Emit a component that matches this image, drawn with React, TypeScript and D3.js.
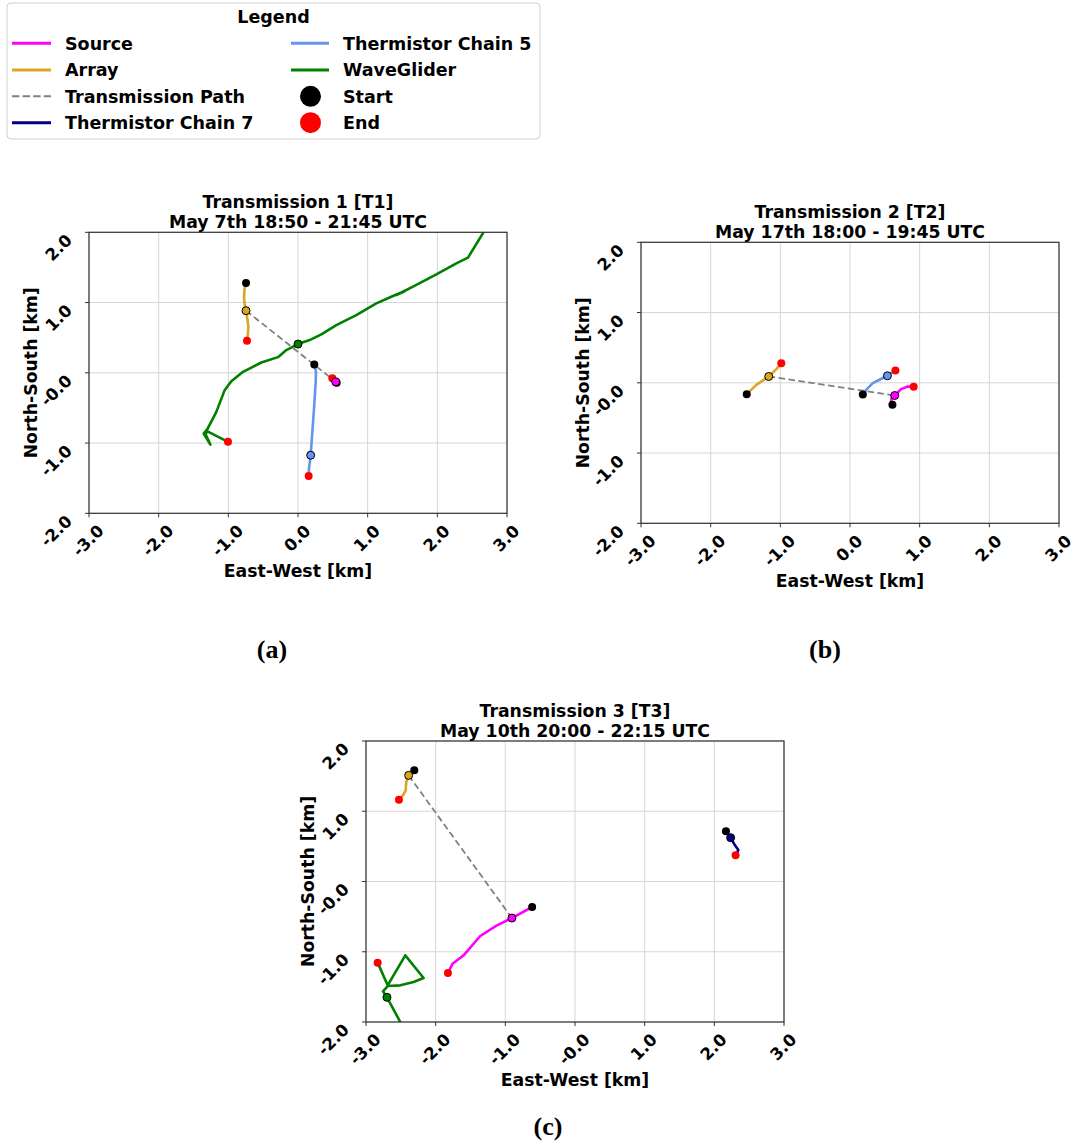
import React from "react";
import * as d3 from "d3";

type Pt = [number, number];

const SANS = "'DejaVu Sans', 'Liberation Sans', sans-serif";
const SERIF = "'Liberation Serif', 'Times New Roman', serif";

// Series colours
const C_SOURCE = "#ff00ff";
const C_ARRAY = "#daa520";
const C_PATH = "#808080";
const C_CHAIN7 = "#000080";
const C_CHAIN5 = "#6495ed";
const C_GLIDER = "#008000";
const C_START = "#000000";
const C_END = "#ff0000";

// Axis ticks and their labels
const xTicks = [-3, -2, -1, 0, 1, 2, 3];
const yTicks = [-2, -1, 0, 1, 2];
const xTickLabelsAB = ["-3.0", "-2.0", "-1.0", "0.0", "1.0", "2.0", "3.0"];
const xTickLabelsC = ["-3.0", "-2.0", "-1.0", "-0.0", "1.0", "2.0", "3.0"];
const yTickLabels = ["-2.0", "-1.0", "-0.0", "1.0", "2.0"];

// Legend entries
const legendCol1 = ["Source", "Array", "Transmission Path", "Thermistor Chain 7"];
const legendCol2 = ["Thermistor Chain 5", "WaveGlider", "Start", "End"];

// Transmission 1 tracks (km east / km north)
const t1Array: Pt[] = [
  [-0.746, 1.278], [-0.77, 1.178], [-0.775, 1.059], [-0.761, 0.941], [-0.746, 0.884],
  [-0.727, 0.774], [-0.713, 0.656], [-0.718, 0.561], [-0.732, 0.456],
];
const t1ArrayMark: Pt = [-0.746, 0.884];
const t1Source: Pt[] = [[0.555, -0.14], [0.541, -0.128], [0.493, -0.076]];
const t1SourceMark: Pt = [0.541, -0.128];
const t1Chain5: Pt[] = [
  [0.234, 0.119], [0.258, 0.014], [0.254, -0.128], [0.23, -0.508], [0.206, -0.841],
  [0.182, -1.173], [0.158, -1.363], [0.153, -1.468],
];
const t1Chain5Mark: Pt = [0.182, -1.173];
const t1Glider: Pt[] = [
  [2.727, 2.105], [2.44, 1.639], [2.273, 1.558], [1.986, 1.401], [1.651, 1.226],
  [1.411, 1.107], [1.53, 1.16], [1.38, 1.1], [1.124, 0.988], [0.837, 0.822],
  [0.55, 0.679], [0.335, 0.546], [0.167, 0.466], [0.0, 0.409], [-0.167, 0.323],
  [-0.287, 0.223], [-0.526, 0.147], [-0.789, 0.014], [-0.957, -0.119], [-1.053, -0.247],
  [-1.172, -0.556], [-1.301, -0.803], [-1.354, -0.865], [-1.258, -1.021], [-1.325, -0.879],
  [-1.306, -0.831], [-1.005, -0.983],
];
const t1GliderMark: Pt = [0.0, 0.409];

// Transmission 2 tracks
const t2Array: Pt[] = [[-1.482, -0.162], [-1.344, -0.029], [-1.167, 0.09], [-1.057, 0.195], [-0.986, 0.28]];
const t2ArrayMark: Pt = [-1.167, 0.09];
const t2Chain5: Pt[] = [[0.184, -0.166], [0.241, -0.09], [0.327, -0.005], [0.422, 0.043], [0.537, 0.1], [0.652, 0.176]];
const t2Chain5Mark: Pt = [0.537, 0.1];
const t2Source: Pt[] = [[0.609, -0.314], [0.59, -0.266], [0.599, -0.209], [0.642, -0.181], [0.733, -0.09], [0.828, -0.052], [0.914, -0.057]];
const t2SourceMark: Pt = [0.642, -0.181];

// Transmission 3 tracks
const t3Array: Pt[] = [[-2.307, 1.582], [-2.388, 1.511], [-2.422, 1.416], [-2.431, 1.298], [-2.469, 1.227], [-2.527, 1.165]];
const t3ArrayMark: Pt = [-2.388, 1.511];
const t3Source: Pt[] = [[-0.615, -0.363], [-0.906, -0.52], [-1.121, -0.624], [-1.36, -0.776], [-1.599, -1.051], [-1.757, -1.17], [-1.824, -1.303]];
const t3SourceMark: Pt = [-0.906, -0.52];
const t3Chain7: Pt[] = [[2.167, 0.714], [2.234, 0.624], [2.296, 0.515], [2.345, 0.448], [2.305, 0.375]];
const t3Chain7Mark: Pt = [2.234, 0.624];
const t3Glider: Pt[] = [
  [-2.48, -2.06], [-2.508, -2.0], [-2.699, -1.649], [-2.756, -1.563], [-2.689, -1.488],
  [-2.508, -1.478], [-2.316, -1.431], [-2.173, -1.374], [-2.436, -1.051], [-2.689, -1.478],
  [-2.833, -1.155],
];
const t3GliderMark: Pt = [-2.699, -1.649];

interface Track { color: string; pts: Pt[]; mark: Pt }

const panelTracks: Track[][] = [
  [
    { color: C_CHAIN5, pts: t1Chain5, mark: t1Chain5Mark },
    { color: C_GLIDER, pts: t1Glider, mark: t1GliderMark },
    { color: C_ARRAY, pts: t1Array, mark: t1ArrayMark },
    { color: C_SOURCE, pts: t1Source, mark: t1SourceMark },
  ],
  [
    { color: C_CHAIN5, pts: t2Chain5, mark: t2Chain5Mark },
    { color: C_ARRAY, pts: t2Array, mark: t2ArrayMark },
    { color: C_SOURCE, pts: t2Source, mark: t2SourceMark },
  ],
  [
    { color: C_CHAIN7, pts: t3Chain7, mark: t3Chain7Mark },
    { color: C_GLIDER, pts: t3Glider, mark: t3GliderMark },
    { color: C_ARRAY, pts: t3Array, mark: t3ArrayMark },
    { color: C_SOURCE, pts: t3Source, mark: t3SourceMark },
  ],
];

const panelPaths: [Pt, Pt][] = [
  [t1ArrayMark, t1SourceMark],
  [t2ArrayMark, t2SourceMark],
  [t3ArrayMark, t3SourceMark],
];

const panelTitles: [string, string][] = [
  ["Transmission 1 [T1]", "May 7th 18:50 - 21:45 UTC"],
  ["Transmission 2 [T2]", "May 17th 18:00 - 19:45 UTC"],
  ["Transmission 3 [T3]", "May 10th 20:00 - 22:15 UTC"],
];
const panelXLabels = [xTickLabelsAB, xTickLabelsAB, xTickLabelsC];
const panelCaptions = ["(a)", "(b)", "(c)"];

// Layout
const W = 418;
const H = 281;
const frames = [
  { left: 89, top: 232.3, capX: 272, capY: 650 },
  { left: 641, top: 242.3, capX: 825, capY: 650 },
  { left: 366, top: 741, capX: 548, capY: 1127 },
];

const TICK_FS = 16.5;
const charW: Record<string, number> = { "-": 0.415, ".": 0.38 };
const labelWidth = (s: string) =>
  s.split("").reduce((a, c) => a + (charW[c] ?? 0.696), 0) * TICK_FS;

function Panel({ idx }: { idx: number }) {
  const f = frames[idx];
  const x = d3.scaleLinear().domain([-3, 3]).range([f.left, f.left + W]);
  const y = d3.scaleLinear().domain([-2, 2]).range([f.top + H, f.top]);
  const line = d3.line<Pt>().x((d) => x(d[0])).y((d) => y(d[1]));
  const tracks = panelTracks[idx];
  const [pa, pb] = panelPaths[idx];
  const clipId = `clip-${idx}`;
  const bottom = f.top + H;
  const cx = f.left + W / 2;
  const r = 4;
  return (
    <g>
      <defs>
        <clipPath id={clipId}>
          <rect x={f.left} y={f.top} width={W} height={H} />
        </clipPath>
      </defs>
      {/* grid */}
      <g stroke="#d6d6d6" strokeWidth={1}>
        {xTicks.map((t) => (
          <line key={"gx" + t} x1={x(t)} x2={x(t)} y1={f.top} y2={bottom} />
        ))}
        {yTicks.map((t) => (
          <line key={"gy" + t} x1={f.left} x2={f.left + W} y1={y(t)} y2={y(t)} />
        ))}
      </g>
      <g clipPath={`url(#${clipId})`}>
        {tracks.map((t, i) => (
          <path key={"l" + i} d={line(t.pts) ?? ""} fill="none" stroke={t.color}
            strokeWidth={2.6} strokeLinejoin="round" strokeLinecap="round" />
        ))}
        <path d={line([pa, pb]) ?? ""} fill="none" stroke={C_PATH} strokeWidth={1.8}
          strokeDasharray="6.5,3.5" />
        {tracks.map((t, i) => (
          <circle key={"s" + i} cx={x(t.pts[0][0])} cy={y(t.pts[0][1])} r={r} fill={C_START} />
        ))}
        {tracks.map((t, i) => {
          const e = t.pts[t.pts.length - 1];
          return <circle key={"e" + i} cx={x(e[0])} cy={y(e[1])} r={r} fill={C_END} />;
        })}
        {tracks.map((t, i) => (
          <circle key={"m" + i} cx={x(t.mark[0])} cy={y(t.mark[1])} r={r}
            fill={t.color} stroke="#000" strokeWidth={1} />
        ))}
      </g>
      {/* spines */}
      <rect x={f.left} y={f.top} width={W} height={H} fill="none" stroke="#333" strokeWidth={1.2} />
      {/* ticks */}
      <g stroke="#333" strokeWidth={1}>
        {xTicks.map((t) => (
          <line key={"tx" + t} x1={x(t)} x2={x(t)} y1={bottom} y2={bottom + 4} />
        ))}
        {yTicks.map((t) => (
          <line key={"ty" + t} x1={f.left - 4} x2={f.left} y1={y(t)} y2={y(t)} />
        ))}
      </g>
      <g fontFamily={SANS} fontWeight="bold" fontSize={TICK_FS} fill="#000">
        {xTicks.map((t, i) => {
          const lab = panelXLabels[idx][i];
          const s = (labelWidth(lab) * 0.93 + TICK_FS * 0.73) * 0.7071;
          return (
            <text key={"lx" + t} textAnchor="middle" dy="0.36em"
              transform={`translate(${x(t) - 1},${bottom + 11 + s / 2}) rotate(-45)`}>
              {lab}
            </text>
          );
        })}
        {yTicks.map((t, i) => (
          <text key={"ly" + t} textAnchor="end"
            transform={`translate(${f.left - 16},${y(t) + 9}) rotate(-45)`}>
            {yTickLabels[i]}
          </text>
        ))}
      </g>
      <g fontFamily={SANS} fontWeight="bold" fontSize={17.3} fill="#000" textAnchor="middle">
        <text x={cx} y={f.top - 24.5}>{panelTitles[idx][0]}</text>
        <text x={cx} y={f.top - 4.5}>{panelTitles[idx][1]}</text>
        <text x={cx} y={bottom + 63.5}>East-West [km]</text>
        <text transform={`translate(${f.left - 52.5},${f.top + H / 2}) rotate(-90)`}>
          North-South [km]
        </text>
      </g>
      <text x={f.capX} y={f.capY + 8} fontFamily={SERIF} fontWeight="bold" fontSize={26}
        textAnchor="middle">
        {panelCaptions[idx]}
      </text>
    </g>
  );
}

function Legend() {
  const rows = [43.3, 70, 96.3, 122.7];
  const col1Colors = [C_SOURCE, C_ARRAY, C_PATH, C_CHAIN7];
  const fs = 17.5;
  return (
    <g fontFamily={SANS} fontWeight="bold" fontSize={fs} fill="#000">
      <rect x={7} y={3} width={533} height={136} rx={4} fill="#fff" stroke="#d0d0d0" strokeWidth={1} />
      <text x={273.5} y={17 + fs * 0.36} textAnchor="middle">Legend</text>
      {legendCol1.map((lab, i) => (
        <g key={lab}>
          <line x1={12} x2={51} y1={rows[i]} y2={rows[i]} stroke={col1Colors[i]}
            strokeWidth={lab === "Transmission Path" ? 2 : 3}
            strokeDasharray={lab === "Transmission Path" ? "7.4,3.2" : undefined} />
          <text x={65} y={rows[i] + fs * 0.36}>{lab}</text>
        </g>
      ))}
      {legendCol2.map((lab, i) => (
        <g key={lab}>
          {i < 2 ? (
            <line x1={291} x2={329} y1={rows[i]} y2={rows[i]}
              stroke={i === 0 ? C_CHAIN5 : C_GLIDER} strokeWidth={3} />
          ) : (
            <circle cx={310.5} cy={rows[i]} r={10.5} fill={i === 2 ? C_START : C_END} />
          )}
          <text x={343} y={rows[i] + fs * 0.36}>{lab}</text>
        </g>
      ))}
    </g>
  );
}

export default function App() {
  return (
    <svg width={1076} height={1143} viewBox="0 0 1076 1143"
      style={{ position: "absolute", left: 0, top: 0, background: "#fff" }}>
      <rect x={0} y={0} width={1076} height={1143} fill="#fff" />
      <Legend />
      {[0, 1, 2].map((i) => (
        <Panel key={i} idx={i} />
      ))}
    </svg>
  );
}
